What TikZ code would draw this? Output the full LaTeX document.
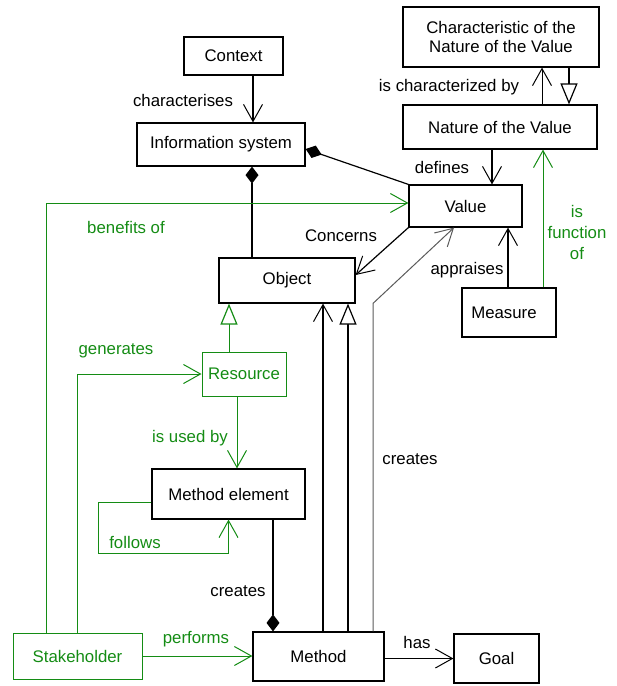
\documentclass[tikz,border=0pt]{standalone}
\usepackage{fontspec}
\setmainfont{Liberation Sans}
\usetikzlibrary{arrows.meta}
\definecolor{grn}{RGB}{20,140,20}
\definecolor{gry}{RGB}{90,90,90}
\tikzset{
  box/.style={draw, line width=1.2pt, inner sep=0pt, font=\fontsize{16.8}{19}\selectfont, align=center},
  gbox/.style={box, draw=grn, text=grn, line width=1pt},
  lab/.style={inner sep=0pt, font=\fontsize{16.8}{19}\selectfont, align=center},
  glab/.style={lab, text=grn},
  conn/.style={line width=1.2pt},
  gconn/.style={line width=1pt, draw=grn},
  openarr/.style={-{Straight Barb[length=17pt,width=19pt,line width=1pt]}},
  inh/.style={-{Triangle[open,length=21pt,width=17pt,line width=1.2pt,fill=white]}},
  dia/.style={{Diamond[length=17pt,width=13pt]}-},
  diaend/.style={-{Diamond[length=17pt,width=13pt]}},
}
\begin{document}
\begin{tikzpicture}[x=1pt,y=-1pt]
\useasboundingbox (0,0) rectangle (617,686);
% nodes
\node[box, minimum width=99pt, minimum height=38pt] (ctx) at (233.5,56) {Context};
\node[box, minimum width=168pt, minimum height=43pt] (is) at (221,144.5) {Information system};
\node[box, minimum width=196pt, minimum height=60pt] (char) at (501,37) {Characteristic of the\\Nature of the Value};
\node[box, minimum width=194pt, minimum height=44pt] (nat) at (500,127) {Nature of the Value};
\node[box, minimum width=113pt, minimum height=42pt] (val) at (465.5,206) {Value};
\node[box, minimum width=136pt, minimum height=45pt] (obj) at (287,280.5) {Object};
\node[box, minimum width=94pt, minimum height=49pt] (meas) at (509,312.5) {Measure\hspace{10pt}};
\node[gbox, minimum width=84pt, minimum height=44pt] (res) at (244,374) {Resource};
\node[box, minimum width=153pt, minimum height=50pt] (me) at (228.5,494) {Method element};
\node[gbox, minimum width=129pt, minimum height=46pt] (sh) at (77.5,656) {Stakeholder};
\node[box, minimum width=131pt, minimum height=49pt] (meth) at (318.5,656.5) {Method};
\node[box, minimum width=85pt, minimum height=49pt] (goal) at (496.5,658.5) {Goal};
% black connectors
\draw[conn, openarr] ([xshift=19.5pt]ctx.south) -- ([xshift=19.5pt]ctx.south |- is.north);
\draw[conn, dia] ([xshift=31pt]is.south) -- ([xshift=31pt]is.south |- obj.north);
\draw[conn, dia] ([yshift=-4.5pt]is.east) -- (val.north west);
\draw[conn, openarr] ([xshift=-8pt]nat.south) -- ([xshift=-8pt]nat.south |- val.north);
\draw[line width=1pt, openarr] ([xshift=42pt]nat.north) -- ([xshift=42pt]nat.north |- char.south);
\draw[conn, inh] ([xshift=68pt]char.south) -- ([xshift=68pt]char.south |- nat.north);
\draw[conn, openarr] ([xshift=-1pt]meas.north) -- ([xshift=-1pt]meas.north |- val.south);
\draw[conn, openarr] (val.south west) -- ([yshift=5.5pt]obj.east);
\draw[conn, openarr] ([xshift=4.5pt]meth.north) -- ([xshift=4.5pt]meth.north |- obj.south);
\draw[conn, inh] ([xshift=29.5pt]meth.north) -- ([xshift=29.5pt]meth.north |- obj.south);
\draw[line width=1pt, draw=gry, openarr] ([xshift=54.5pt]meth.north) -- ++(0,-328) -- ([xshift=-11.5pt]val.south);
\draw[conn, diaend] ([xshift=44.5pt]me.south) -- ([xshift=44.5pt]me.south |- meth.north);
\draw[line width=1pt, openarr] (meth.east |- goal.west) -- (goal.west);
% green connectors
\draw[gconn, openarr] ([xshift=-31.5pt]sh.north) |- ([yshift=3pt]val.west);
\draw[gconn, openarr] (sh.north) |- (res.west);
\draw[gconn, inh] ([xshift=-15pt]res.north) -- ([xshift=-15pt]res.north |- obj.south);
\draw[gconn, openarr] ([xshift=-7pt]res.south) -- ([xshift=-7pt]res.south |- me.north);
\draw[gconn, openarr] ([yshift=-8pt]me.west) -- ++(-53,0) -- ++(0,51) -| (me.south);
\draw[gconn, openarr] (sh.east) -- (sh.east -| meth.west);
\draw[gconn, openarr] ([xshift=34pt]meas.north) -- ([xshift=34pt]meas.north |- nat.south);
% labels
\node[lab] (l1) at (183,100) {characterises};
\node[lab] (l2) at (341,236) {Concerns};
\node[lab] (l3) at (442,167) {defines};
\node[lab] (l4) at (449,87) {is characterized by};
\node[lab] (l5) at (467,270) {appraises};
\node[lab] (l6) at (238,591) {creates};
\node[lab] (l7) at (417,642) {has};
\node[lab] (l8) at (410,459) {creates};
\node[glab] (g1) at (126,227) {benefits of};
\node[glab] (g2) at (116,351) {generates};
\node[glab] (g3) at (190,438) {is used by};
\node[glab] (g4) at (135,542) {follows};
\node[glab] (g5) at (196,639) {performs};
\node[glab, font=\fontsize{16.8}{21}\selectfont] (g6) at (577,232) {is\\function\\of};
\end{tikzpicture}
\end{document}
